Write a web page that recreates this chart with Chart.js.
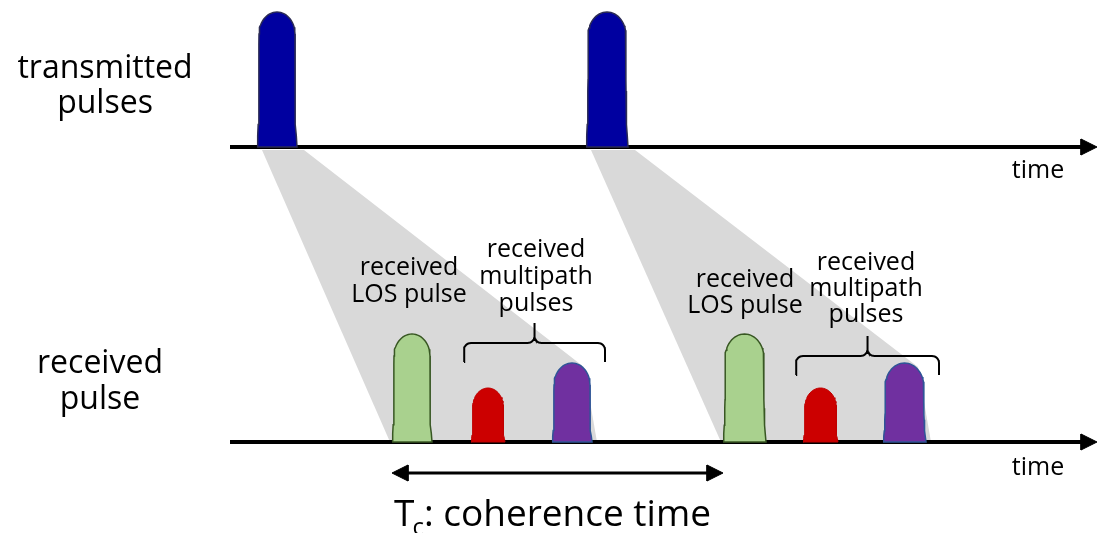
<!DOCTYPE html>
<html lang="en">
<head>
  <meta charset="UTF-8">
  <title>Transmitted and received pulses</title>
  <script src="https://cdn.jsdelivr.net/npm/chart.js@4.4.0/dist/chart.umd.min.js"></script>
  <style>
    body {
      margin: 0;
      background-color: #ffffff;
    }

    #wrap {
      width: 1100px;
      height: 533px;
    }
  </style>
</head>
<body>
  <div id="wrap"><canvas id="diagram"></canvas></div>
  <script>
    // pulse edges on the time axis and pulse heights, one entry per period
    const txStart = [257, 586]
    const txEnd = [297, 628]
    const txHeight = [135, 135]
    const losStart = [392, 723]
    const losEnd = [432, 766]
    const losHeight = [108, 108]
    const redStart = [471, 803]
    const redEnd = [505, 838]
    const redHeight = [54, 54]
    const purpleStart = [552, 883]
    const purpleEnd = [592, 926]
    const purpleHeight = [79, 79]

    // time axis extent and the two rows (transmitted, received)
    const axisStart = 230
    const axisEnd = 1097
    const rowBase = [147, 442]

    const rowLabels = [['transmitted', 'pulses'], ['received', 'pulse']]
    const losLabel = ['received', 'LOS pulse']
    const multipathLabel = ['received', 'multipath', 'pulses']
    const axisLabel = 'time'

    // layout only
    const braceLevel = [343, 356]
    const arrowLevel = 473
    const font = '"Open Sans", "DejaVu Sans", sans-serif'

    const pulseShape = (s, e, h, base) => {
      const w = e - s
      const ry = Math.min(h * 0.4, w * 0.55)
      const flare = w * 0.05
      const rx = w / 2 - flare
      const cx = (s + e) / 2
      const top = base - h
      const side = h - ry
      const pts = []
      // left side, bottom to shoulder, small skirt at the foot
      for (let k = 0; k <= 10; k++) {
        const t = k / 10
        pts.push({ x: s + flare * (1 - Math.pow(1 - t, 4)), y: base - side * t })
      }
      for (let i = 1; i <= 30; i++) {
        const a = Math.PI - Math.PI * i / 30
        pts.push({ x: cx + rx * Math.cos(a), y: top + ry - ry * Math.sin(a) })
      }
      for (let k = 10; k >= 0; k--) {
        const t = k / 10
        pts.push({ x: e - flare * (1 - Math.pow(1 - t, 4)), y: base - side * t })
      }
      pts.push({ x: s, y: base })
      return pts
    }

    const braceShape = (s, e, lvl) => {
      const m = (s + e) / 2
      const r = 7
      const pts = [{ x: s, y: lvl + 19 }]
      const arc = (cx, cy, a0, a1) => {
        for (let k = 0; k <= 8; k++) {
          const a = a0 + (a1 - a0) * k / 8
          pts.push({ x: cx + r * Math.cos(a), y: cy + r * Math.sin(a) })
        }
      }
      arc(s + r, lvl + r, Math.PI, 1.5 * Math.PI)
      arc(m - r, lvl - r, 0.5 * Math.PI, 0)
      pts.push({ x: m, y: lvl - 20 })
      arc(m + r, lvl - r, Math.PI, 0.5 * Math.PI)
      arc(e - r, lvl + r, 1.5 * Math.PI, 2 * Math.PI)
      pts.push({ x: e, y: lvl + 19 })
      return pts
    }

    const head = (tipX, y, dir) => [
      { x: tipX, y: y },
      { x: tipX - dir * 16, y: y - 8 },
      { x: tipX - dir * 16, y: y + 8 },
      { x: tipX, y: y }
    ]

    const shape = (data, color, border, order, width) => ({
      data: data,
      fill: 'shape',
      backgroundColor: color,
      borderColor: border,
      borderWidth: width,
      pointRadius: 0,
      tension: 0,
      order: order
    })
    const line = (data, color, width, order) => ({
      data: data,
      fill: false,
      borderColor: color,
      borderWidth: width,
      pointRadius: 0,
      tension: 0,
      order: order
    })

    const datasets = []
    for (let i = 0; i < txStart.length; i++) {
      const top = rowBase[0] + 3
      const bot = rowBase[1]
      datasets.push(shape([
        { x: txStart[i] + 5, y: top },
        { x: txEnd[i] + 7, y: top },
        { x: purpleEnd[i] - 8, y: bot - purpleHeight[i] + 4 },
        { x: purpleEnd[i] + 5, y: bot },
        { x: losStart[i] - 2, y: bot },
        { x: txStart[i] + 5, y: top }
      ], '#d9d9d9', '#d9d9d9', 9, 0))
    }
    rowBase.forEach(b => {
      datasets.push(line([{ x: axisStart, y: b }, { x: axisEnd - 12, y: b }], '#000000', 4, 6))
      datasets.push(shape(head(axisEnd, b, 1), '#000000', '#000000', 6, 1))
    })
    for (let i = 0; i < txStart.length; i++) {
      datasets.push(shape(pulseShape(txStart[i], txEnd[i], txHeight[i], rowBase[0]), '#0000a0', '#2b2b55', 2, 1.5))
      datasets.push(shape(pulseShape(losStart[i], losEnd[i], losHeight[i], rowBase[1]), '#a9d18e', '#385723', 2, 1.5))
      datasets.push(shape(pulseShape(redStart[i], redEnd[i], redHeight[i], rowBase[1]), '#cc0000', '#c00000', 2, 1))
      datasets.push(shape(pulseShape(purpleStart[i], purpleEnd[i], purpleHeight[i], rowBase[1]), '#7030a0', '#2f5597', 2, 1.5))
      datasets.push(line(braceShape(redStart[i] - 7, purpleEnd[i] + 13, braceLevel[i]), '#000000', 2, 3))
    }
    // coherence time: from one LOS pulse to the next
    datasets.push(line([{ x: losStart[0] + 10, y: arrowLevel }, { x: losStart[1] - 10, y: arrowLevel }], '#000000', 3, 3))
    datasets.push(shape(head(losStart[0], arrowLevel, -1), '#000000', '#000000', 3, 1))
    datasets.push(shape(head(losStart[1], arrowLevel, 1), '#000000', '#000000', 3, 1))

    const textItems = [
      { lines: rowLabels[0], x: 105, y: 78, gap: 35, size: 32 },
      { lines: rowLabels[1], x: 100, y: 373, gap: 36, size: 32 },
      { lines: losLabel, x: 409, y: 275, gap: 27, size: 25 },
      { lines: losLabel, x: 745, y: 287, gap: 26, size: 25 },
      { lines: multipathLabel, x: 536, y: 257, gap: 27, size: 25 },
      { lines: multipathLabel, x: 866, y: 270, gap: 26, size: 25 },
      { lines: [axisLabel], x: 1038, y: 178, gap: 0, size: 25 },
      { lines: [axisLabel], x: 1038, y: 475, gap: 0, size: 25 }
    ]

    const labelPlugin = {
      id: 'labels',
      afterDatasetsDraw(chart) {
        const { ctx, scales: { x, y } } = chart
        ctx.save()
        ctx.fillStyle = '#000000'
        ctx.textBaseline = 'alphabetic'
        ctx.textAlign = 'center'
        textItems.forEach(t => {
          ctx.font = t.size + 'px ' + font
          t.lines.forEach((l, i) => ctx.fillText(l, x.getPixelForValue(t.x), y.getPixelForValue(t.y + i * t.gap)))
        })
        // T with subscript c
        ctx.textAlign = 'left'
        let px = x.getPixelForValue(394)
        const py = y.getPixelForValue(526)
        ctx.font = '37px ' + font
        ctx.fillText('T', px, py)
        px += ctx.measureText('T').width - 2
        ctx.font = '24px ' + font
        ctx.fillText('c', px, py + 9)
        px += ctx.measureText('c').width
        ctx.font = '37px ' + font
        ctx.fillText(': coherence time', px, py)
        ctx.restore()
      }
    }

    new Chart(document.getElementById('diagram'), {
      type: 'line',
      data: { datasets: datasets },
      options: {
        responsive: true,
        maintainAspectRatio: false,
        animation: false,
        events: [],
        layout: { padding: 0 },
        scales: {
          x: { type: 'linear', min: 0, max: 1100, display: false },
          y: { type: 'linear', min: 0, max: 533, reverse: true, display: false }
        },
        plugins: {
          legend: { display: false },
          tooltip: { enabled: false }
        }
      },
      plugins: [labelPlugin]
    })
  </script>
</body>
</html>
